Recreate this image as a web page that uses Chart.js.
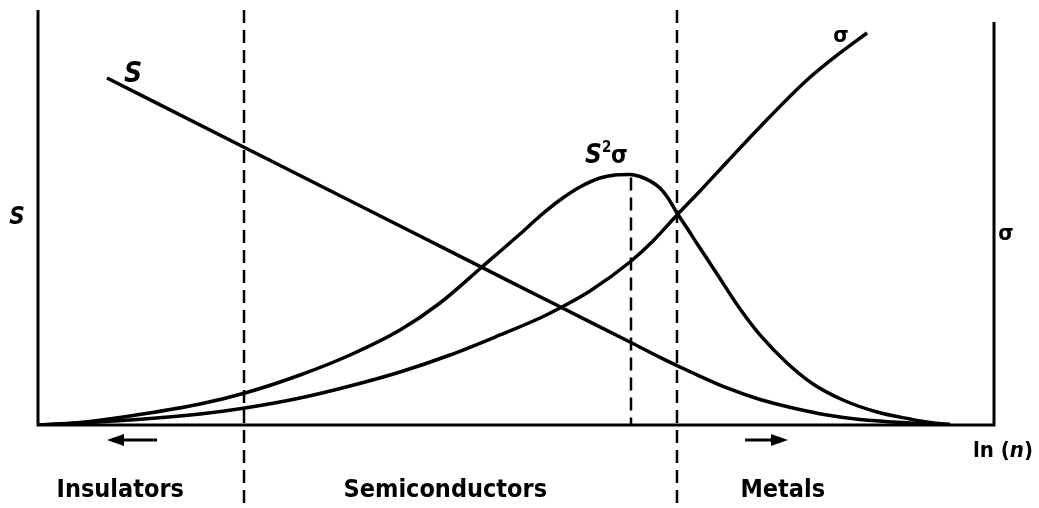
<!DOCTYPE html>
<html>
<head>
<meta charset="utf-8">
<script src="https://cdn.jsdelivr.net/npm/chart.js@4/dist/chart.umd.min.js"></script>
<style>
  html, body { margin: 0; padding: 0; background: #ffffff; }
  #wrap { width: 1039px; height: 508px; position: relative; }
</style>
</head>
<body>
<div id="wrap"><canvas id="chart" width="1039" height="508"></canvas></div>
<script>
// ln(n) positions (arbitrary units, 0..100) and curve values (arbitrary units, 0..100)
const sX     = [7.22, 21.55, 46.23, 54.60, 62.13, 65.06, 68.51, 72.07, 75.52, 78.97, 82.53, 85.98, 89.44, 92.26, 95.40];
const sY     = [83.61, 66.94, 38.22, 28.48, 19.76, 16.31, 12.53, 8.92, 6.14, 4.10, 2.41, 1.33, 0.72, 0.36, 0.12];

const powerX = [0, 4.39, 9.62, 16.95, 21.65, 27.41, 32.64, 37.87, 42.05, 46.44, 50.42, 52.51, 54.60, 56.69, 58.79, 60.36, 61.92, 62.97, 64.02, 65.06, 65.90, 66.84, 67.89, 68.93, 71.03, 73.22, 75.52, 78.35, 81.07, 84.21, 87.76, 91.21, 93.31, 95.40];
const powerY = [0, 0.60, 2.17, 5.06, 7.71, 12.05, 16.87, 22.89, 29.40, 38.07, 46.02, 50.36, 54.22, 57.35, 59.52, 60.24, 60.36, 59.88, 58.80, 57.11, 54.70, 51.08, 47.47, 43.73, 36.39, 28.67, 21.69, 14.94, 9.88, 6.02, 3.13, 1.45, 0.60, 0.12];

const sigmaX = [0, 9.62, 16.95, 21.65, 27.41, 32.64, 37.87, 43.10, 48.33, 52.51, 54.60, 57.74, 61.92, 64.33, 66.84, 69.25, 72.07, 75.52, 80.44, 83.89, 86.72];
const sigmaY = [0, 1.20, 2.65, 4.10, 6.51, 9.40, 12.77, 16.87, 21.69, 25.78, 28.19, 32.29, 39.28, 44.34, 50.60, 56.39, 63.37, 71.81, 83.13, 89.64, 94.46];

// region boundaries and the power-factor maximum
const insulatorEdge = 21.55;
const metalEdge     = 66.84;
const peakX         = 62.03;
const peakY         = 60.36;

const regionNames  = ['Insulators', 'Semiconductors', 'Metals'];
const regionLabelX = [8.6, 42.6, 77.9];

const toPoints = (xs, ys) => xs.map((x, i) => ({ x: x, y: ys[i] }));

const curveStyle = {
  borderColor: '#000000',
  borderWidth: 3.5,
  pointRadius: 0,
  fill: false,
  cubicInterpolationMode: 'monotone'
};

const FONT = '"DejaVu Sans Condensed", "DejaVu Sans", sans-serif';

const decorations = {
  id: 'decorations',
  afterDatasetsDraw(chart) {
    const { ctx, chartArea: a, scales: { x, y } } = chart;
    ctx.save();
    ctx.strokeStyle = '#000';
    ctx.fillStyle = '#000';
    ctx.lineCap = 'butt';

    // axes
    ctx.lineWidth = 3;
    ctx.beginPath();
    ctx.moveTo(a.left, a.top);
    ctx.lineTo(a.left, a.bottom);
    ctx.lineTo(a.right, a.bottom);
    ctx.lineTo(a.right, a.top + 12);
    ctx.stroke();

    // region boundaries (dashed)
    ctx.lineWidth = 2.5;
    ctx.setLineDash([13, 7]);
    [insulatorEdge, metalEdge].forEach(v => {
      const px = x.getPixelForValue(v);
      ctx.beginPath();
      ctx.moveTo(px, a.top);
      ctx.lineTo(px, chart.height);
      ctx.stroke();
    });
    const pk = x.getPixelForValue(peakX);
    ctx.beginPath();
    ctx.moveTo(pk, y.getPixelForValue(peakY) + 3);
    ctx.lineTo(pk, a.bottom);
    ctx.stroke();
    ctx.setLineDash([]);

    // arrows
    const arrow = (x0, x1, yy) => {
      const dir = Math.sign(x1 - x0);
      ctx.lineWidth = 3;
      ctx.beginPath();
      ctx.moveTo(x0, yy);
      ctx.lineTo(x1 - dir * 12, yy);
      ctx.stroke();
      ctx.beginPath();
      ctx.moveTo(x1, yy);
      ctx.lineTo(x1 - dir * 17, yy - 6);
      ctx.lineTo(x1 - dir * 17, yy + 6);
      ctx.closePath();
      ctx.fill();
    };
    arrow(a.left + 119, a.left + 69, a.bottom + 15);
    arrow(a.left + 707, a.left + 750, a.bottom + 15);

    // region labels
    ctx.font = 'bold 25px ' + FONT;
    ctx.textAlign = 'center';
    ctx.textBaseline = 'alphabetic';
    regionNames.forEach((name, i) => {
      ctx.fillText(name, x.getPixelForValue(regionLabelX[i]), 497);
    });

    // axis titles
    ctx.font = 'italic bold 24px ' + FONT;
    ctx.fillText('S', 17, 224);
    ctx.font = 'bold 22px ' + FONT;
    ctx.fillText('σ', 1006, 240);

    ctx.font = 'bold 22px ' + FONT;
    ctx.textAlign = 'left';
    ctx.fillText('ln (', 973, 457);
    let w = ctx.measureText('ln (').width;
    ctx.font = 'italic bold 22px ' + FONT;
    ctx.fillText('n', 973 + w, 457);
    w += ctx.measureText('n').width;
    ctx.font = 'bold 22px ' + FONT;
    ctx.fillText(')', 973 + w, 457);

    // curve labels
    ctx.textAlign = 'center';
    ctx.font = 'italic bold 28px ' + FONT;
    ctx.fillText('S', x.getPixelForValue(sX[0]) + 26, y.getPixelForValue(sY[0]) + 4);

    const lx = x.getPixelForValue(peakX) - 26;
    const ly = y.getPixelForValue(peakY) - 12;
    ctx.textAlign = 'left';
    ctx.font = 'italic bold 26px ' + FONT;
    ctx.fillText('S', lx - 20, ly);
    ctx.font = 'bold 15px ' + FONT;
    ctx.fillText('2', lx - 3, ly - 11);
    ctx.font = 'bold 24px ' + FONT;
    ctx.fillText('σ', lx + 6, ly);

    ctx.font = 'bold 22px ' + FONT;
    ctx.textAlign = 'center';
    const last = sigmaX.length - 1;
    ctx.fillText('σ', x.getPixelForValue(sigmaX[last]) - 26, y.getPixelForValue(sigmaY[last]) + 9);

    ctx.restore();
  }
};

new Chart(document.getElementById('chart'), {
  type: 'line',
  data: {
    datasets: [
      Object.assign({ label: 'S', data: toPoints(sX, sY) }, curveStyle),
      Object.assign({ label: 'S²σ', data: toPoints(powerX, powerY) }, curveStyle),
      Object.assign({ label: 'σ', data: toPoints(sigmaX, sigmaY) }, curveStyle)
    ]
  },
  options: {
    responsive: false,
    animation: false,
    devicePixelRatio: 1,
    layout: { padding: { left: 38, right: 45, top: 10, bottom: 83 } },
    plugins: { legend: { display: false }, tooltip: { enabled: false } },
    scales: {
      x: { type: 'linear', min: 0, max: 100, display: false },
      y: { type: 'linear', min: 0, max: 100, display: false }
    }
  },
  plugins: [decorations]
});
</script>
</body>
</html>
